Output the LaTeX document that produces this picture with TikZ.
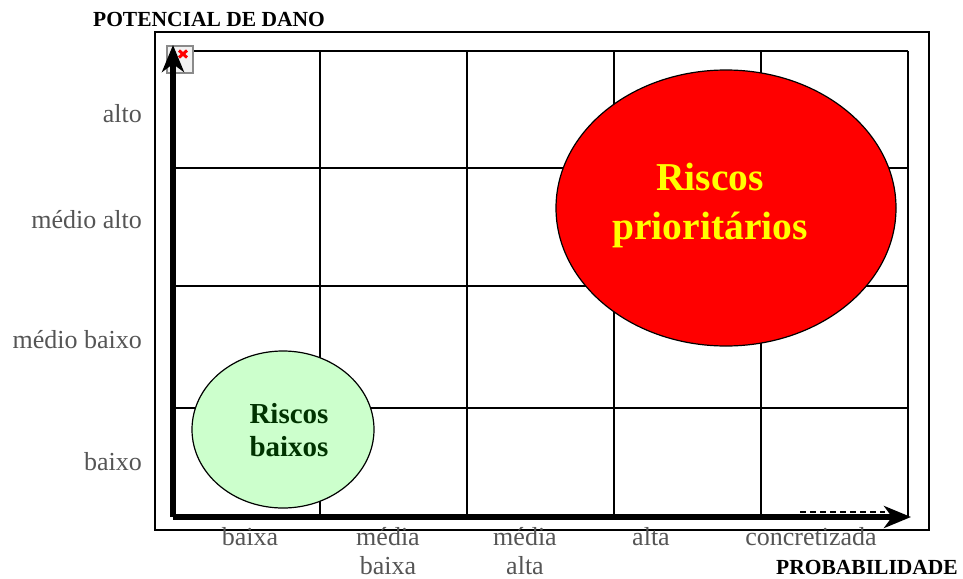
\documentclass[tikz,border=0pt]{standalone}
\usepackage{fontspec}
\setmainfont{Liberation Serif}
\usetikzlibrary{arrows.meta,positioning}

\definecolor{labelgray}{HTML}{555555}
\definecolor{lowfill}{HTML}{CCFFCC}
\definecolor{lowtext}{HTML}{003300}
\definecolor{prioyellow}{HTML}{FFFF00}
\definecolor{iconedge}{HTML}{8A8A8A}
\definecolor{iconfill}{HTML}{F2F2F2}

\def\gridtop{51}
\def\gridbottom{517}
\def\gridleft{173}
\def\gridright{908}

\tikzset{
  gridline/.style = {line width=2pt},
  axisline/.style = {line width=5.5pt, -{Stealth[length=27pt,width=22pt,inset=8pt]}},
  scalelabel/.style = {font=\fontsize{26}{29}\selectfont, text=labelgray,
                       inner sep=0pt, align=center},
  axistitle/.style = {font=\fontsize{21.5}{24}\selectfont\bfseries, inner sep=0pt},
}

\begin{document}
\begin{tikzpicture}[x=1pt, y=-1pt]
  \useasboundingbox (0,0) rectangle (963,578);
  % Outer frame
  \draw[line width=1.5pt] (155,32) rectangle (929,530);
  % Grid of the matrix
  \foreach \xpos in {320,467,614,761,908} {
    \draw[gridline] (\xpos,\gridtop) -- (\xpos,\gridbottom);
  }
  \foreach \ypos in {51,168,286,408} {
    \draw[gridline] (\gridleft,\ypos) -- (\gridright,\ypos);
  }
  % Broken picture placeholder in the corner
  \node (icon) [draw=iconedge, fill=iconfill, line width=1.5pt,
                minimum width=26pt, minimum height=27pt, inner sep=0pt]
    at (180,59.5) {};
  \draw[red, line width=3pt] ([shift={(-1,-2)}]icon.center) -- ++(8,-7)
    ([shift={(-1,-9)}]icon.center) -- ++(8,7);
  % Risk areas
  \draw[line width=1.2pt, fill=red] (726,208) ellipse [x radius=170, y radius=138];
  \draw[line width=1.2pt, fill=lowfill] (283,429.5) ellipse [x radius=91, y radius=78.5];
  \node (prio) [font=\fontsize{39.5}{49}\selectfont\bfseries, text=prioyellow,
                align=center] at (710,205) {Riscos\\prioritários};
  \node (low) [font=\fontsize{29}{33}\selectfont\bfseries, text=lowtext,
               align=center] at (289,430) {Riscos\\baixos};
  % Axes
  \coordinate (origin) at (\gridleft,\gridbottom);
  \coordinate (ytip) at (\gridleft,45);
  \coordinate (xtip) at (911,\gridbottom);
  \draw[line width=2pt, dashed, dash pattern=on 6pt off 4pt]
    (800,512) -- (885,512);
  \draw[axisline] (origin) -- (ytip);
  \draw[axisline] (origin) -- (xtip);
  % Scale labels
  \foreach \ypos/\name in {122/alto, 228/médio alto, 348/médio baixo, 470/baixo} {
    \node[scalelabel, anchor=base east] at (142,\ypos) {\name};
  }
  \foreach \xpos/\name in {250/baixa, 388/média\\baixa, 525/média\\alta,
                           651/alta, 811/concretizada} {
    \node[scalelabel, anchor=north] at (\xpos,527) {\name};
  }
  % Axis titles
  \node (ytitle) [axistitle, anchor=base] at (209,27) {POTENCIAL DE DANO};
  \node (xtitle) [axistitle, anchor=base east] at (958,574) {PROBABILIDADE};
\end{tikzpicture}
\end{document}
